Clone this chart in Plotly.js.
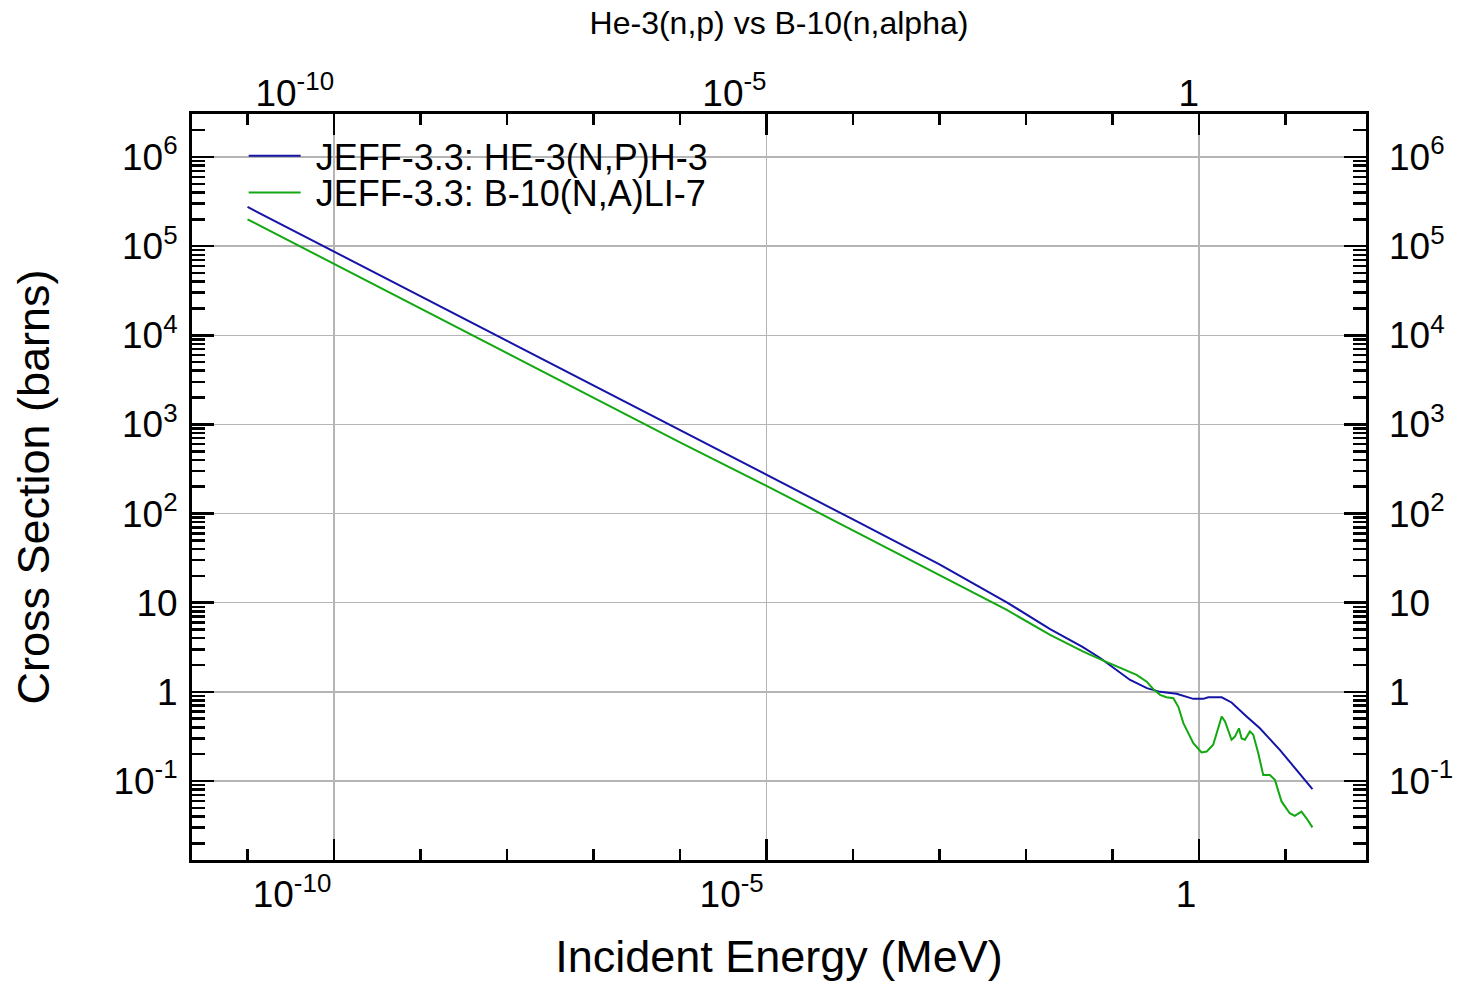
<!DOCTYPE html>
<html>
<head>
<meta charset="utf-8">
<script src="https://cdn.plot.ly/plotly-3.0.1.min.js"></script>
<style>html,body{margin:0;padding:0;background:#fff;}</style>
</head>
<body>
<div id="chart" style="width:1470px;height:982px;"></div>
<script>
// ---- Data ----
const he3Energy = [1e-11, 1e-10, 1e-9, 1e-8, 1e-7, 1e-6, 1e-5, 1e-4, 1e-3, 6e-3, 0.019, 0.045, 0.072, 0.16, 0.25, 0.355, 0.55, 0.86, 1.12, 1.28, 1.83, 2.38, 3.55, 5.06, 8.6, 13.4, 20.5];
const he3Sigma  = [2.75e5, 8.7e4, 2.75e4, 8.7e3, 2.75e3, 870, 273, 86, 27, 10.1, 5.05, 3.2, 2.4, 1.36, 1.1, 1.0, 0.95, 0.835, 0.835, 0.87, 0.87, 0.76, 0.53, 0.39, 0.224, 0.134, 0.081];

const b10Energy = [1e-11, 1e-10, 1e-9, 1e-8, 1e-7, 1e-6, 1e-5, 1e-4, 1e-3, 6e-3, 0.019, 0.046, 0.0785, 0.134, 0.19, 0.249, 0.297, 0.355, 0.42, 0.506, 0.577, 0.66, 0.86, 1.07, 1.23, 1.46, 1.67, 1.83, 2.0, 2.38, 2.6, 2.9, 3.11, 3.4, 3.88, 4.24, 4.84, 5.53, 6.6, 7.55, 9.0, 11.2, 12.8, 15.3, 17.5, 20.5];
const b10Sigma  = [2.0e5, 6.3e4, 2.0e4, 6.3e3, 2.0e3, 630, 205, 65, 20.5, 8.3, 4.35, 2.83, 2.24, 1.8, 1.55, 1.3, 1.07, 0.925, 0.87, 0.85, 0.68, 0.446, 0.266, 0.209, 0.214, 0.255, 0.408, 0.53, 0.465, 0.29, 0.315, 0.39, 0.30, 0.29, 0.36, 0.33, 0.206, 0.117, 0.117, 0.103, 0.059, 0.0435, 0.0406, 0.0453, 0.0382, 0.0302];

const seriesNames = ['JEFF-3.3: HE-3(N,P)H-3', 'JEFF-3.3: B-10(N,A)LI-7'];

// ---- Tick labels ----
const xTickVals = [1e-10, 1e-5, 1];
const xTickText = ['10<sup>-10</sup>', '10<sup>-5</sup>', '1'];
const yTickVals = [1e-1, 1, 10, 1e2, 1e3, 1e4, 1e5, 1e6];
const yTickText = ['10<sup>-1</sup>', '1', '10', '10<sup>2</sup>', '10<sup>3</sup>', '10<sup>4</sup>', '10<sup>5</sup>', '10<sup>6</sup>'];

// minor tick positions
const xMinorVals = [];
for (let d = -11; d <= 1; d++) { if (d % 5 !== 0) xMinorVals.push(Math.pow(10, d)); }
const yMinorVals = [];
for (let d = -2; d <= 6; d++) { for (let m = 2; m <= 9; m++) yMinorVals.push(m * Math.pow(10, d)); }

const xRange = [-11.642, 1.931];
const yRange = [-1.886, 6.482];
const FONT = '"Liberation Sans", Arial, Helvetica, sans-serif';
const NB = '\u00a0';

const traces = [
  { x: he3Energy, y: he3Sigma, name: NB + seriesNames[0], mode: 'lines', type: 'scatter',
    line: { color: '#1414a6', width: 2 }, hoverinfo: 'skip', legend: 'legend' },
  { x: b10Energy, y: b10Sigma, name: NB + seriesNames[1], mode: 'lines', type: 'scatter',
    line: { color: '#12a812', width: 2 }, hoverinfo: 'skip', legend: 'legend2' },
  { x: [1], y: [1], xaxis: 'x2', yaxis: 'y2', mode: 'none', type: 'scatter',
    showlegend: false, hoverinfo: 'skip' }
];

const legendCommon = { x: 0.044, xanchor: 'left', yanchor: 'top', bgcolor: 'rgba(0,0,0,0)',
  borderwidth: 0, font: { size: 36, family: FONT, color: '#000' }, itemwidth: 52 };

const layout = {
  width: 1470, height: 982,
  margin: { l: 192, r: 104, t: 114, b: 122, pad: 0 },
  paper_bgcolor: '#ffffff', plot_bgcolor: '#ffffff',
  font: { family: FONT, color: '#000000' },
  showlegend: true,
  title: { text: 'He-3(n,p) vs B-10(n,alpha)', font: { size: 32, family: FONT, color: '#000' },
           x: 0.5, xref: 'paper', xanchor: 'center', y: 0.977, yref: 'container', yanchor: 'middle' },
  legend: Object.assign({}, legendCommon, { y: 0.984 }),
  legend2: Object.assign({}, legendCommon, { y: 0.935 }),
  xaxis: {
    type: 'log', range: xRange, tickmode: 'array', tickvals: xTickVals, ticktext: xTickText,
    ticks: 'inside', ticklen: 21, tickwidth: 2.5, tickcolor: '#000',
    showline: true, linecolor: '#000', linewidth: 3, mirror: 'allticks',
    showgrid: true, gridcolor: '#b5b5b5', gridwidth: 1.5, zeroline: false,
    tickfont: { size: 37, family: FONT, color: '#000' }, ticklabelposition: 'outside left',
    minor: { tickmode: 'array', tickvals: xMinorVals, ticks: 'inside', ticklen: 11,
             tickwidth: 2.5, tickcolor: '#000', showgrid: false },
    title: { text: 'Incident Energy (MeV)', font: { size: 45, family: FONT, color: '#000' }, standoff: 27 },
    automargin: false, fixedrange: true
  },
  xaxis2: {
    type: 'log', range: xRange, overlaying: 'x', side: 'top', anchor: 'y',
    tickmode: 'array', tickvals: xTickVals, ticktext: xTickText, ticks: '',
    showline: false, showgrid: false, zeroline: false,
    tickfont: { size: 37, family: FONT, color: '#000' }, ticklabelposition: 'outside left',
    automargin: false, fixedrange: true
  },
  yaxis: {
    type: 'log', range: yRange, tickmode: 'array', tickvals: yTickVals, ticktext: yTickText,
    ticks: 'inside', ticklen: 22, tickwidth: 2.5, tickcolor: '#000',
    showline: true, linecolor: '#000', linewidth: 3, mirror: 'allticks',
    showgrid: true, gridcolor: '#b5b5b5', gridwidth: 1.5, zeroline: false,
    tickfont: { size: 37, family: FONT, color: '#000' }, ticklabelstandoff: 4,
    minor: { tickmode: 'array', tickvals: yMinorVals, ticks: 'inside', ticklen: 13,
             tickwidth: 2.5, tickcolor: '#000', showgrid: false },
    title: { text: 'Cross Section (barns)', font: { size: 45, family: FONT, color: '#000' }, standoff: 50 },
    automargin: false, fixedrange: true
  },
  yaxis2: {
    type: 'log', range: yRange, overlaying: 'y', side: 'right', anchor: 'x',
    tickmode: 'array', tickvals: yTickVals, ticktext: yTickText, ticks: '',
    showline: false, showgrid: false, zeroline: false,
    tickfont: { size: 37, family: FONT, color: '#000' }, ticklabelstandoff: 22,
    automargin: false, fixedrange: true
  }
};

Plotly.newPlot('chart', traces, layout, { staticPlot: true, displayModeBar: false });
</script>
</body>
</html>
